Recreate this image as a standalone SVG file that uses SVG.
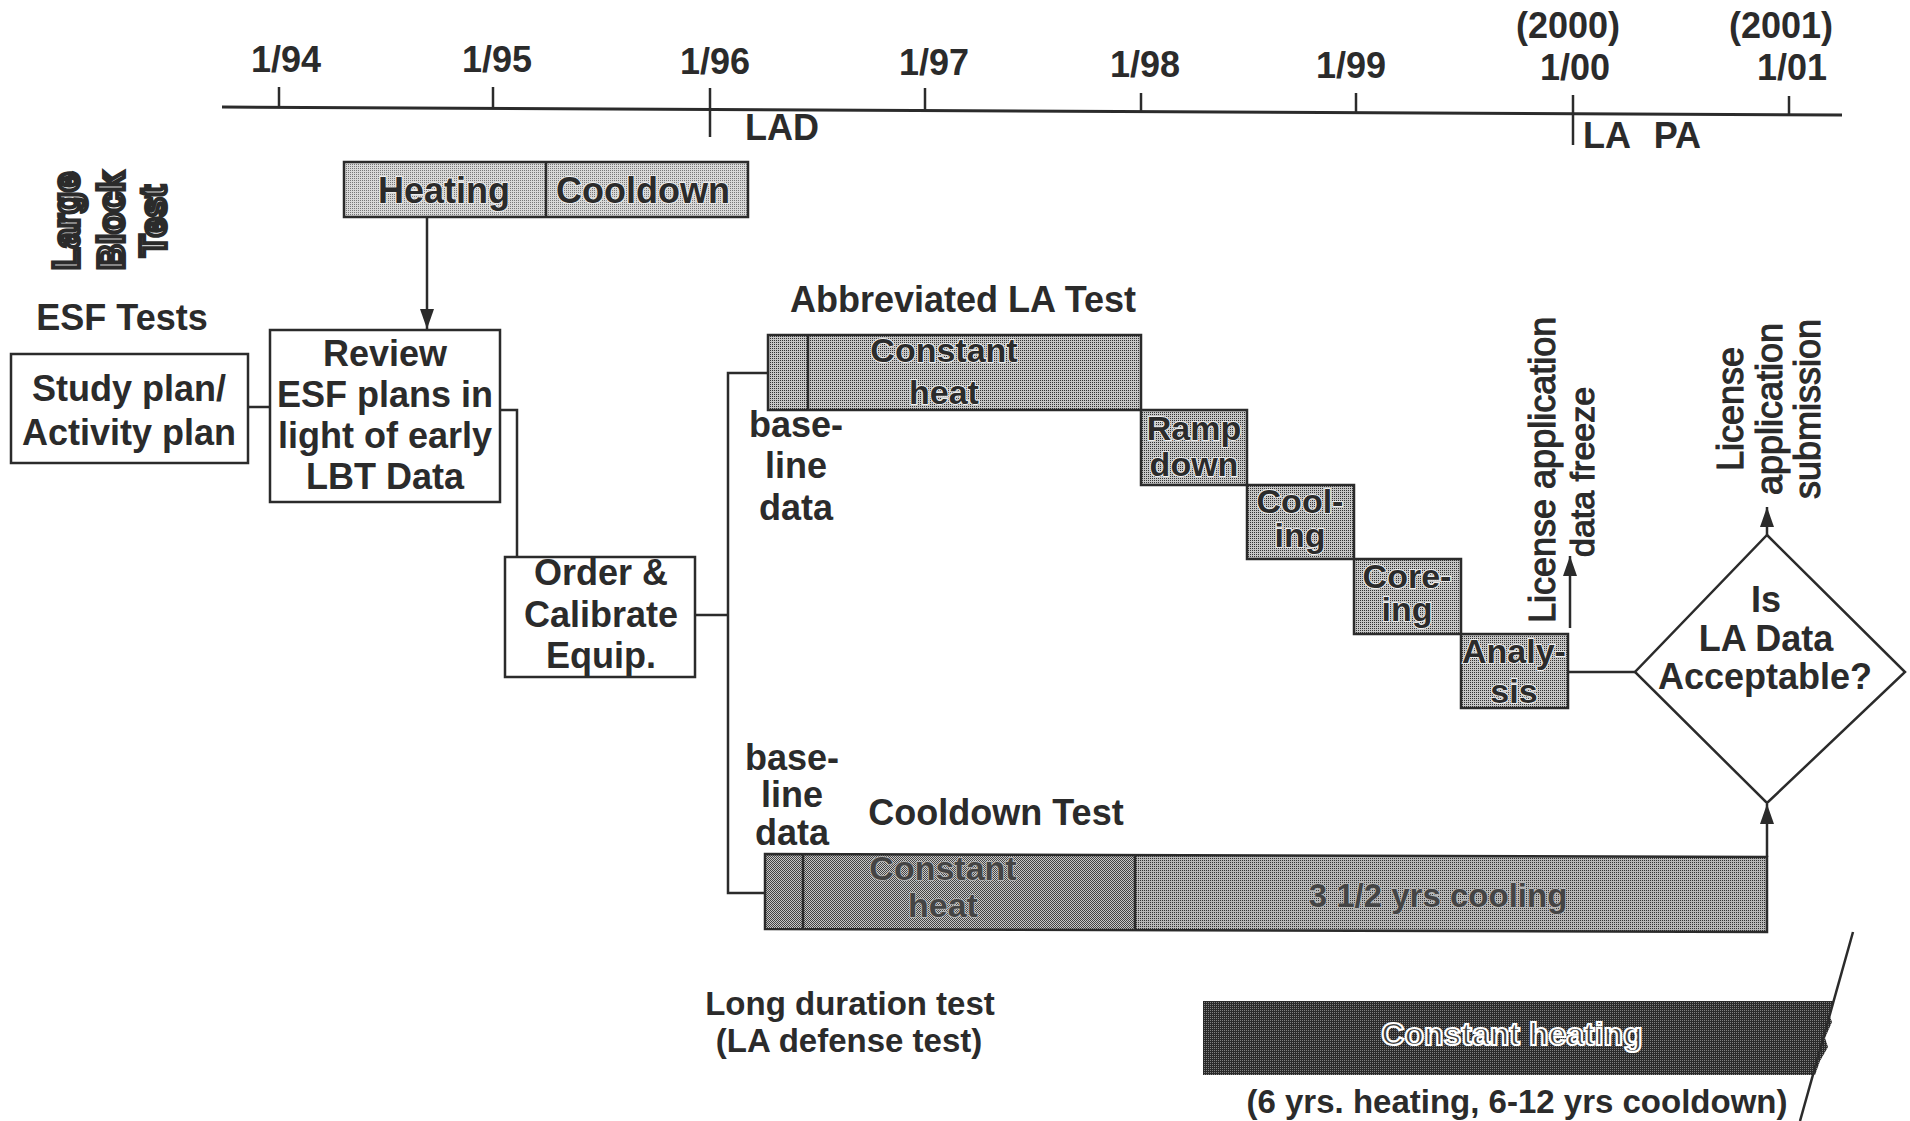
<svg xmlns="http://www.w3.org/2000/svg" width="1910" height="1121" viewBox="0 0 1910 1121">
<defs>
<style>
.ln{stroke:#2b2b2b;stroke-width:2.5;fill:none}
.box{fill:#fff;stroke:#2b2b2b;stroke-width:2.5}
.bar{stroke:#2b2b2b;stroke-width:2.5}
.t{font-family:"Liberation Sans",Arial,sans-serif;font-weight:bold;font-size:36px;fill:#2b2b2b;text-anchor:middle}
.s{font-size:33px}
.r{font-weight:normal;stroke:#2b2b2b;stroke-width:1.1}
.st{font-size:34px}
.bt{stroke:#ececec;stroke-width:2;paint-order:stroke}
.gt{fill:#444;stroke:#bbb;stroke-width:1.5;paint-order:stroke}
.ot{fill:#fff;stroke:#2b2b2b;stroke-width:4;font-size:36px}
.wt{fill:#3a3a3a;stroke:#fff;stroke-width:2.2;font-size:32px}
</style>
<pattern id="pLight" width="2" height="2" patternUnits="userSpaceOnUse"><rect width="2" height="2" fill="#d8d8d8"/><rect width="1" height="1" fill="#777"/></pattern>
<pattern id="pMid" width="2" height="2" patternUnits="userSpaceOnUse"><rect width="2" height="2" fill="#c6c6c6"/><rect width="1" height="1" fill="#333"/></pattern>
<pattern id="pDark" width="2" height="2" patternUnits="userSpaceOnUse"><rect width="2" height="2" fill="#c8c8c8"/><rect width="1" height="1" fill="#444"/><rect x="1" y="1" width="1" height="1" fill="#444"/></pattern>
<pattern id="pDark2" width="2" height="2" patternUnits="userSpaceOnUse"><rect width="2" height="2" fill="#b8b8b8"/><rect width="1" height="1" fill="#333"/></pattern>
<pattern id="pBlack" width="2" height="2" patternUnits="userSpaceOnUse"><rect width="2" height="2" fill="#2a2a2a"/><rect width="1" height="1" fill="#808080"/></pattern>
<marker id="arr" markerUnits="userSpaceOnUse" markerWidth="20" markerHeight="14" refX="20" refY="7" orient="auto"><path d="M0,0 L20,7 L0,14 z" fill="#2b2b2b"/></marker>
</defs>
<rect width="1910" height="1121" fill="#fff"/>

<g id="timeline">
<line class="ln" x1="222" y1="107" x2="1842" y2="115" style="stroke-width:3"/>
<line class="ln" x1="279" y1="87" x2="279" y2="107"/>
<line class="ln" x1="493" y1="87" x2="493" y2="108"/>
<line class="ln" x1="710" y1="88" x2="710" y2="137"/>
<line class="ln" x1="925" y1="88" x2="925" y2="110"/>
<line class="ln" x1="1141" y1="93" x2="1141" y2="111"/>
<line class="ln" x1="1356" y1="93" x2="1356" y2="112"/>
<line class="ln" x1="1573" y1="95" x2="1573" y2="145"/>
<line class="ln" x1="1789" y1="96" x2="1789" y2="114"/>
<text class="t" x="286" y="72">1/94</text>
<text class="t" x="497" y="72">1/95</text>
<text class="t" x="715" y="74">1/96</text>
<text class="t" x="934" y="75">1/97</text>
<text class="t" x="1145" y="77">1/98</text>
<text class="t" x="1351" y="78">1/99</text>
<text class="t" x="1568" y="38">(2000)</text>
<text class="t" x="1575" y="80">1/00</text>
<text class="t" x="1781" y="38">(2001)</text>
<text class="t" x="1792" y="80">1/01</text>
<text class="t" x="745" y="140" style="text-anchor:start">LAD</text>
<text class="t" x="1583" y="148" style="text-anchor:start;word-spacing:14px">LA PA</text>
</g>

<g id="large-block-test-label">
<text class="t ot" transform="translate(79,221) rotate(-90)">Large</text>
<text class="t ot" transform="translate(124,221) rotate(-90)">Block</text>
<text class="t ot" transform="translate(166,221) rotate(-90)">Test</text>
</g>

<g id="lbt-bar">
<rect class="bar" x="344" y="162" width="404" height="55" fill="url(#pLight)"/>
<line class="ln" x1="546" y1="162" x2="546" y2="217"/>
<text class="t bt" x="444" y="203">Heating</text>
<text class="t bt" x="643" y="203">Cooldown</text>
</g>

<g id="esf-label">
<text class="t" x="122" y="330">ESF Tests</text>
</g>

<g id="study-plan">
<rect class="box" x="11" y="354" width="237" height="109"/>
<text class="t" x="129" y="401">Study plan/</text>
<text class="t" x="129" y="445">Activity plan</text>
</g>

<g id="review">
<rect class="box" x="270" y="330" width="230" height="172"/>
<text class="t" x="385" y="366">Review</text>
<text class="t" x="385" y="407">ESF plans in</text>
<text class="t" x="385" y="448">light of early</text>
<text class="t" x="385" y="489">LBT Data</text>
</g>

<g id="order">
<rect class="box" x="505" y="557" width="190" height="120"/>
<text class="t" x="601" y="585">Order &amp;</text>
<text class="t" x="601" y="627">Calibrate</text>
<text class="t" x="601" y="668">Equip.</text>
</g>

<g id="abbreviated-la-test">
<text class="t" x="963" y="312">Abbreviated LA Test</text>
<rect class="bar" x="768" y="335" width="373" height="75" fill="url(#pMid)"/>
<line class="ln" x1="808" y1="335" x2="808" y2="410"/>
<text class="t bt st" x="944" y="362">Constant</text>
<text class="t bt st" x="944" y="404">heat</text>
<text class="t" x="796" y="437">base-</text>
<text class="t" x="796" y="478">line</text>
<text class="t" x="796" y="520">data</text>
</g>

<g id="ramp-down">
<rect class="bar" x="1141" y="410" width="106" height="75" fill="url(#pMid)"/>
<text class="t bt st" x="1194" y="440">Ramp</text>
<text class="t bt st" x="1194" y="476">down</text>
</g>

<g id="cooling">
<rect class="bar" x="1247" y="485" width="107" height="74" fill="url(#pMid)"/>
<text class="t bt st" x="1300" y="513">Cool-</text>
<text class="t bt st" x="1300" y="547">ing</text>
</g>

<g id="coring">
<rect class="bar" x="1354" y="559" width="107" height="75" fill="url(#pMid)"/>
<text class="t bt st" x="1407" y="588">Core-</text>
<text class="t bt st" x="1407" y="621">ing</text>
</g>

<g id="analysis">
<rect class="bar" x="1461" y="634" width="107" height="74" fill="url(#pMid)"/>
<text class="t bt st" x="1514" y="663">Analy-</text>
<text class="t bt st" x="1514" y="703">sis</text>
</g>

<g id="data-freeze-label">
<text class="t r" style="text-anchor:start" transform="translate(1555,623) rotate(-90)">License application</text>
<text class="t r" style="text-anchor:start;font-size:34px" transform="translate(1594,557) rotate(-90)">data freeze</text>
</g>

<g id="submission-label">
<text class="t r" transform="translate(1743,409) rotate(-90)">License</text>
<text class="t r" transform="translate(1782,409) rotate(-90)">application</text>
<text class="t r" transform="translate(1820,409) rotate(-90)">submission</text>
</g>

<g id="decision">
<polygon class="box" points="1767,535 1905,672 1767,803 1635,672"/>
<text class="t" x="1766" y="612">Is</text>
<text class="t" x="1766" y="651">LA Data</text>
<text class="t" x="1765" y="689">Acceptable?</text>
</g>

<g id="cooldown-test">
<text class="t" x="996" y="825">Cooldown Test</text>
<text class="t" x="792" y="770">base-</text>
<text class="t" x="792" y="807">line</text>
<text class="t" x="792" y="845">data</text>
<polygon points="765,854 1135,855 1135,930 765,929" fill="url(#pDark)"/>
<polygon points="1135,855 1767,857 1767,932 1135,930" fill="url(#pDark2)"/>
<polygon class="bar" points="765,854 1767,857 1767,932 765,929" fill="none"/>
<line class="ln" x1="803" y1="854" x2="803" y2="929"/>
<line class="ln" x1="1135" y1="855" x2="1135" y2="930"/>
<text class="t gt st" x="943" y="880">Constant</text>
<text class="t gt st" x="943" y="917">heat</text>
<text class="t gt s" x="1438" y="907">3 1/2 yrs cooling</text>
</g>

<g id="long-duration-test">
<text class="t s" x="850" y="1015">Long duration test</text>
<text class="t s" x="849" y="1052">(LA defense test)</text>
<polygon points="1203,1001 1834,1001 1829,1014 1832,1022 1825,1038 1828,1047 1820,1061 1815,1075 1203,1075" fill="url(#pBlack)"/>
<line class="ln" x1="1853" y1="932" x2="1800" y2="1121"/>
<text class="t wt" x="1512" y="1045">Constant heating</text>
<text class="t s" x="1517" y="1113">(6 yrs. heating, 6-12 yrs cooldown)</text>
</g>

<g id="connectors">
<path class="ln" d="M427,217 V329" marker-end="url(#arr)"/>
<path class="ln" d="M248,407 H270"/>
<path class="ln" d="M500,410 H517 V557"/>
<path class="ln" d="M695,615 H728"/>
<path class="ln" d="M768,373 H728 V893 H765"/>
<path class="ln" d="M1568,672 H1635"/>
<path class="ln" d="M1570,628 V556" marker-end="url(#arr)"/>
<path class="ln" d="M1767,535 V507" marker-end="url(#arr)"/>
<path class="ln" d="M1767,857 V804" marker-end="url(#arr)"/>
</g>
</svg>
